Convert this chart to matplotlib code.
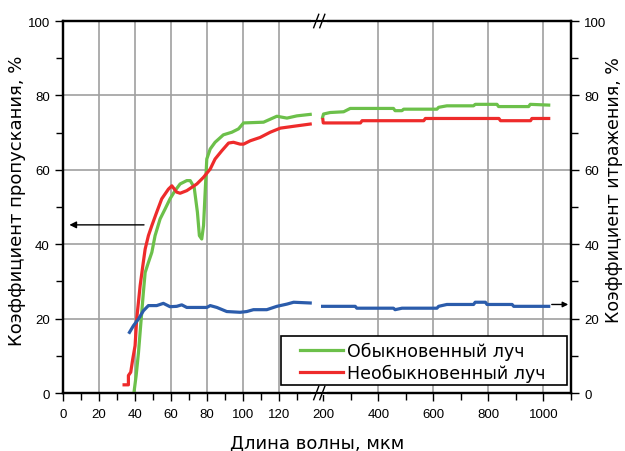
import numpy as np
import matplotlib
matplotlib.use("Agg")
import matplotlib.pyplot as plt
from matplotlib.ticker import FixedLocator, NullFormatter
from matplotlib.lines import Line2D
from matplotlib.patches import Rectangle

plt.rcParams['font.family'] = ['Liberation Sans', 'DejaVu Sans']

# ---- data, two pieces each: before and after the axis break
green_x1 = [39.4, 40.6, 41.9, 43.1, 44.6, 45.6, 47.4, 49.3, 51.1, 53.9, 56.7, 59.4, 62.2, 65.0,
            68.7, 70.6, 72.8, 74.6, 75.7, 77.0, 78.0, 78.9, 79.8, 81.7, 84.4, 89.0, 93.7, 97.4,
            100.2, 111.3, 118.7, 124.3, 129.8, 137.2]
green_y1 = [0.2, 4.7, 10.9, 18.1, 27.0, 32.4, 35.1, 37.8, 42.3, 46.8, 49.5, 52.2, 54.4, 56.2,
            57.1, 57.1, 55.3, 48.6, 42.3, 41.4, 45.0, 54.0, 62.9, 65.6, 67.4, 69.4, 70.1, 71.0,
            72.6, 72.8, 74.4, 73.9, 74.5, 74.9]
green_x2 = [195, 201, 225, 274, 298, 455, 461, 486, 492, 613, 619, 649, 746, 752, 831, 837,
            946, 952, 1019]
green_y2 = [74.1, 75.0, 75.4, 75.6, 76.5, 76.5, 75.9, 75.9, 76.3, 76.3, 76.8, 77.2, 77.2, 77.6,
            77.6, 77.0, 77.0, 77.6, 77.4]

red_x1 = [33.9, 36.3, 36.3, 37.6, 38.7, 40.0, 40.9, 42.8, 44.3, 45.6, 47.4, 49.3, 52.0, 54.8,
          58.5, 60.4, 63.1, 65.0, 68.7, 74.3, 78.0, 81.7, 84.4, 88.1, 91.9, 94.6, 98.3, 100.2,
          103.9, 109.4, 115.0, 120.6, 128.0, 137.2]
red_y1 = [2.2, 2.2, 4.7, 5.6, 9.1, 12.7, 19.9, 28.8, 34.2, 38.7, 42.3, 45.0, 48.6, 52.2,
          54.8, 55.7, 54.0, 53.7, 54.4, 56.2, 58.0, 60.2, 62.9, 65.1, 67.2, 67.4, 66.9, 66.9,
          67.8, 68.7, 70.1, 71.2, 71.7, 72.3]
red_x2 = [197, 200, 335, 341, 565, 571, 838, 844, 953, 958, 1019]
red_y2 = [73.5, 72.6, 72.6, 73.2, 73.2, 73.8, 73.8, 73.2, 73.2, 73.8, 73.8]

blue_x1 = [36.9, 39.1, 41.9, 44.6, 47.4, 52.0, 55.7, 59.4, 63.1, 65.9, 68.7, 79.8, 81.7, 85.4,
           90.9, 98.3, 102.0, 105.7, 113.1, 118.7, 124.3, 128.0, 137.2]
blue_y1 = [16.3, 18.1, 19.9, 22.1, 23.5, 23.5, 24.1, 23.2, 23.3, 23.7, 23.0, 23.0, 23.5, 23.0,
           21.9, 21.7, 21.9, 22.4, 22.4, 23.3, 23.9, 24.4, 24.2]
blue_x2 = [195, 316, 322, 455, 461, 486, 613, 619, 649, 746, 752, 789, 795, 886, 892, 1019]
blue_y2 = [23.3, 23.3, 22.8, 22.8, 22.4, 22.8, 22.8, 23.3, 23.8, 23.8, 24.4, 24.4, 23.8, 23.8,
           23.3, 23.3]

labels = ["Обыкновенный луч", "Необыкновенный луч"]
x_major = [0, 20, 40, 60, 80, 100, 120, 200, 400, 600, 800, 1000]
x_minor = [10, 30, 50, 70, 90, 110, 130, 300, 500, 700, 900, 1100]
x_grid = [20, 40, 60, 80, 100, 120, 400, 600, 800, 1000]


# broken axis: 0..140 stretched, 140..200 squeezed, 200..1100 compressed
def fwd(v):
    v = np.asarray(v, float)
    return np.where(v <= 140, v * 1.8,
                    np.where(v >= 200, 260 + (v - 200) * 0.275, 252 + (v - 140) * 8 / 60))


def inv(u):
    u = np.asarray(u, float)
    return np.where(u <= 252, u / 1.8,
                    np.where(u >= 260, 200 + (u - 260) / 0.275, 140 + (u - 252) * 60 / 8))


fig = plt.figure(figsize=(6.25, 4.52), dpi=100)
ax = fig.add_axes([0.1008, 0.1283, 0.8128, 0.823])
ax.set_xscale('function', functions=(fwd, inv))
ax.set_xlim(0, 1100)
ax.set_ylim(0, 100)

green = '#6cc04a'
red = '#ee2b2b'
blue = '#2b5cab'

for xs, ys, c in [(green_x1, green_y1, green), (green_x2, green_y2, green),
                  (red_x1, red_y1, red), (red_x2, red_y2, red),
                  (blue_x1, blue_y1, blue), (blue_x2, blue_y2, blue)]:
    ax.plot(xs, ys, color=c, lw=2.3, zorder=3)

# grid
for g in x_grid:
    ax.axvline(g, color='#a0a0a0', lw=1.2, zorder=1)
for g in [20, 40, 60, 80]:
    ax.axhline(g, color='#a0a0a0', lw=1.2, zorder=1)

ax.xaxis.set_major_locator(FixedLocator(x_major))
ax.xaxis.set_minor_locator(FixedLocator(x_minor))
ax.xaxis.set_minor_formatter(NullFormatter())
ax.set_yticks([0, 20, 40, 60, 80, 100])
ax.set_yticks([10, 30, 50, 70, 90], minor=True)
ax.tick_params(which='both', direction='out', width=1, labelsize=9.5, top=False)
ax.tick_params(which='major', length=6)
ax.tick_params(which='minor', length=5)
ax.tick_params(axis='x', pad=5)

ax2 = ax.twinx()
ax2.set_ylim(0, 100)
ax2.set_yticks([0, 20, 40, 60, 80, 100])
ax2.set_yticks([10, 30, 50, 70, 90], minor=True)
ax2.tick_params(which='both', direction='out', width=1, labelsize=9.5)
ax2.tick_params(which='major', length=6)
ax2.tick_params(which='minor', length=5)

for a in (ax, ax2):
    for s in a.spines.values():
        s.set_linewidth(1.6)

lab_font = ['DejaVu Sans']
ax.set_xlabel("Длина волны, мкм", fontsize=13, family=lab_font, va='center')
ax.xaxis.set_label_coords(0.5, -0.132)
ax.set_ylabel("Коэффициент пропускания, %", fontsize=13, family=lab_font, va='center')
ax.yaxis.set_label_coords(-0.09, 0.52)
ax2.set_ylabel("Коэффициент итражения, %", fontsize=12.5, family=lab_font, va='center')
ax2.yaxis.set_label_coords(1.085, 0.548)

# axis break marks
bx = 256 / 507.5
for yb in (0, 1):
    ax.plot([bx - 0.012, bx + 0.012], [yb, yb], transform=ax.transAxes, color='white',
            lw=3, clip_on=False, zorder=10)
    for dx in (-0.006, 0.006):
        ax.plot([bx + dx - 0.005, bx + dx + 0.005], [yb - 0.018, yb + 0.018],
                transform=ax.transAxes, color='black', lw=1, clip_on=False, zorder=11)

# arrows pointing to axes
ax.annotate('', xy=(2, 45.2), xytext=(46.5, 45.2),
            arrowprops=dict(arrowstyle='-|>', color='black', lw=1, mutation_scale=10), zorder=4)
ax.annotate('', xy=(1100, 23.8), xytext=(1020, 23.8),
            arrowprops=dict(arrowstyle='-|>', color='black', lw=1, mutation_scale=8), zorder=4)

# legend: frame drawn separately so the entries can sit inset from its left edge
ax.add_patch(Rectangle((0.429, 0.0215), 0.563, 0.132, transform=ax.transAxes,
                       facecolor='white', edgecolor='black', lw=1.2, zorder=5))
handles = [Line2D([], [], color=green, lw=2.3), Line2D([], [], color=red, lw=2.3)]
leg = ax.legend(handles, labels, loc='center left', bbox_to_anchor=(0.4665, 0.084),
                prop={'family': lab_font, 'size': 12.5}, frameon=False,
                borderaxespad=0, borderpad=0, handlelength=2.5, handletextpad=0.2,
                labelspacing=0.22)
leg.set_zorder(6)

fig.savefig("out.png", dpi=100)
